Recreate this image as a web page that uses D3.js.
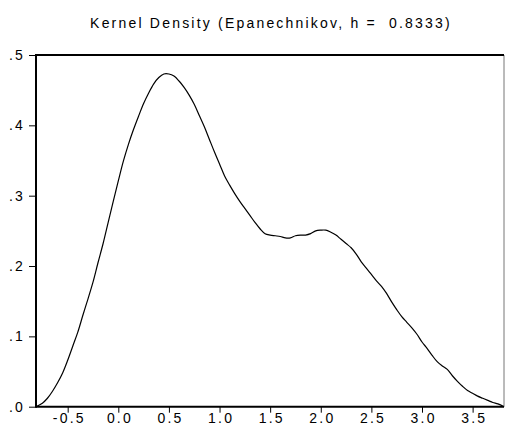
<!DOCTYPE html>
<html><head><meta charset="utf-8">
<script src="https://cdn.jsdelivr.net/npm/d3@7"></script>
<style>body{margin:0;background:#fff}svg{display:block}text{font-family:"Liberation Sans",Arial,sans-serif;fill:#000}</style>
</head><body>
<script>
const title = "Kernel Density (Epanechnikov, h =  0.8333)";
const xTicks = [-0.5, 0.0, 0.5, 1.0, 1.5, 2.0, 2.5, 3.0, 3.5];
const yTicks = [0.0, 0.1, 0.2, 0.3, 0.4, 0.5];
const xValues = [-0.813,-0.75,-0.70,-0.65,-0.60,-0.55,-0.50,-0.45,-0.40,-0.35,-0.30,-0.25,-0.20,-0.15,-0.10,-0.05,
  0.00,0.05,0.10,0.15,0.20,0.25,0.30,0.35,0.40,0.45,0.50,0.55,0.60,0.65,0.70,0.75,0.80,0.85,0.90,0.95,
  1.00,1.05,1.10,1.15,1.20,1.25,1.30,1.35,1.40,1.45,1.50,1.55,1.60,1.65,1.70,1.75,1.80,1.85,1.90,1.95,
  2.00,2.05,2.10,2.15,2.20,2.25,2.30,2.35,2.40,2.45,2.50,2.55,2.60,2.65,2.70,2.75,2.80,2.85,2.90,2.95,
  3.00,3.05,3.10,3.15,3.20,3.25,3.30,3.35,3.40,3.45,3.50,3.55,3.60,3.65,3.70,3.75,3.81];
const densityValues = [0.000,0.005,0.012,0.022,0.034,0.048,0.066,0.086,0.106,0.130,0.153,0.177,0.205,0.232,0.262,0.292,
  0.321,0.349,0.373,0.394,0.413,0.431,0.446,0.459,0.468,0.473,0.473,0.470,0.463,0.454,0.443,0.430,0.414,0.398,0.380,0.362,
  0.345,0.328,0.315,0.303,0.292,0.282,0.272,0.262,0.253,0.246,0.244,0.243,0.242,0.240,0.240,0.243,0.244,0.244,0.246,0.250,
  0.251,0.251,0.248,0.244,0.238,0.232,0.226,0.217,0.206,0.197,0.188,0.179,0.171,0.161,0.149,0.138,0.128,0.120,0.112,0.103,
  0.092,0.083,0.073,0.064,0.058,0.053,0.044,0.036,0.029,0.023,0.019,0.015,0.012,0.009,0.006,0.004,0.000];

(function () {
const W = 505, H = 437;
const mL = 36, mR = 504, mT = 55, mB = 406.7;
const svg = d3.select("body").append("svg").attr("width", W).attr("height", H);

const x = d3.scaleLinear().domain([-0.813, 3.81]).range([mL, mR]);
const y = d3.scaleLinear().domain([0, 0.5]).range([mB, mT]);

// title
svg.append("text").attr("x", (mL + mR) / 2 + 1).attr("y", 28)
  .attr("text-anchor", "middle").style("font-size", "14px").style("letter-spacing", "2.2px")
  .style("white-space", "pre")
  .text(title);

// x axis
const xAxis = svg.append("g").attr("transform", `translate(0,${mB})`)
  .call(d3.axisBottom(x).tickValues(xTicks).tickFormat(d => d.toFixed(1)).tickSize(6).tickSizeOuter(0));
xAxis.select(".domain").remove();
xAxis.attr("font-family", null).attr("font-size", null);
xAxis.selectAll("line").attr("stroke", "#000");
xAxis.selectAll("text").style("font-size", "14px").style("letter-spacing", "2.2px")
  .attr("y", 16).attr("dy", null).attr("dx", "1.1px");

// y axis
const yAxis = svg.append("g").attr("transform", `translate(${mL},0)`)
  .call(d3.axisLeft(y).tickValues(yTicks).tickFormat(d => d.toFixed(1).replace(/^0/, "")).tickSize(7).tickSizeOuter(0));
yAxis.select(".domain").remove();
yAxis.attr("font-family", null).attr("font-size", null);
yAxis.selectAll("line").attr("stroke", "#000");
yAxis.selectAll("text").style("font-size", "14px").style("letter-spacing", "2.2px")
  .attr("x", -11);

// frame
svg.append("line").attr("x1", mR).attr("x2", mR).attr("y1", mT).attr("y2", mB)
  .attr("stroke", "#777").attr("stroke-width", 1);
svg.append("line").attr("x1", mL).attr("x2", mR).attr("y1", mT).attr("y2", mT)
  .attr("stroke", "#000").attr("stroke-width", 2);
svg.append("line").attr("x1", mL).attr("x2", mR).attr("y1", mB).attr("y2", mB)
  .attr("stroke", "#000").attr("stroke-width", 2);
svg.append("line").attr("x1", mL).attr("x2", mL).attr("y1", mT - 1).attr("y2", mB + 1)
  .attr("stroke", "#000").attr("stroke-width", 2);

// curve
const pts = xValues.map((v, i) => [v, densityValues[i]]);
svg.append("path").datum(pts)
  .attr("fill", "none").attr("stroke", "#000").attr("stroke-width", 1.2)
  .attr("d", d3.line().x(d => x(d[0])).y(d => y(d[1])).curve(d3.curveCatmullRom.alpha(0.5)));
})();
</script>
</body></html>
